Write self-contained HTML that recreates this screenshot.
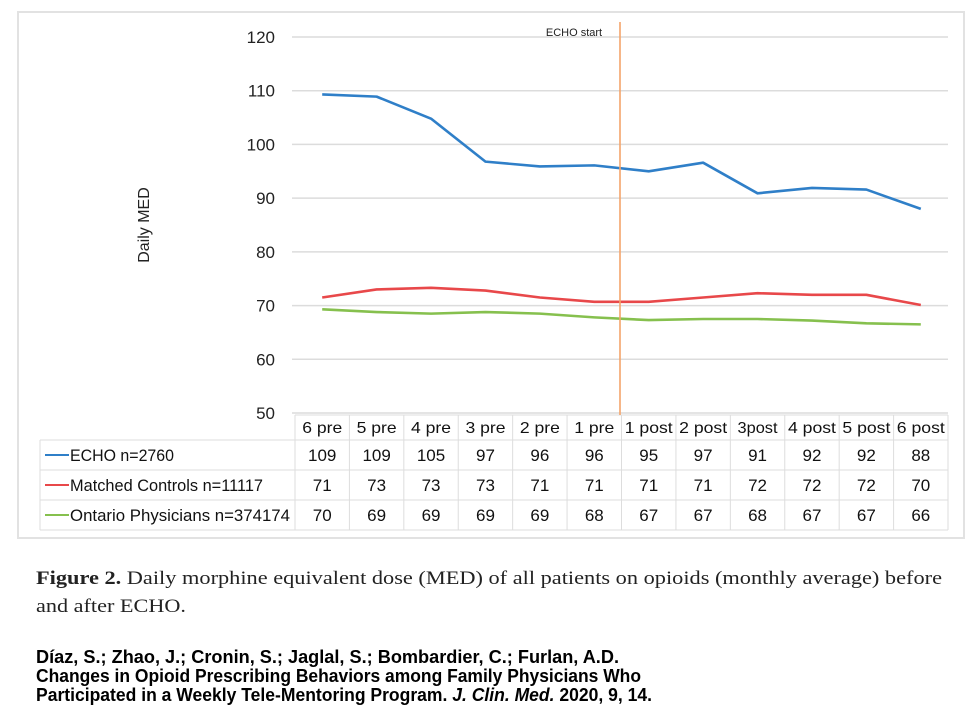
<!DOCTYPE html>
<html><head><meta charset="utf-8"><style>
body{margin:0;background:#fff;}
svg{display:block;font-family:"Liberation Sans",sans-serif;}
</style></head><body>
<svg id="c" width="978" height="728" viewBox="0 0 978 728">
<rect x="18" y="12" width="946" height="526" fill="#fff" stroke="#e2e2e2" stroke-width="2"/>
<g id="grid"></g>
<g id="table"></g>
<g id="lines"></g>
<text x="149" y="225" font-size="16" fill="#222" transform="rotate(-90 149 225)" text-anchor="middle">Daily MED</text>
<line x1="620" y1="22" x2="620" y2="415" stroke="#f4a46a" stroke-width="1.6"/>
<text x="574" y="36" font-size="11" fill="#222" text-anchor="middle">ECHO start</text>
<g font-family="'Liberation Serif',serif" font-size="19" fill="#222">
<text x="36" y="584" textLength="906" lengthAdjust="spacingAndGlyphs"><tspan font-weight="bold">Figure 2.</tspan> Daily morphine equivalent dose (MED) of all patients on opioids (monthly average) before</text>
<text x="36" y="612" textLength="150" lengthAdjust="spacingAndGlyphs">and after ECHO.</text>
</g>
<g font-size="18" font-weight="bold" fill="#000">
<text x="36" y="663" textLength="583" lengthAdjust="spacingAndGlyphs">Díaz, S.; Zhao, J.; Cronin, S.; Jaglal, S.; Bombardier, C.; Furlan, A.D.</text>
<text x="36" y="682" textLength="605" lengthAdjust="spacingAndGlyphs">Changes in Opioid Prescribing Behaviors among Family Physicians Who</text>
<text x="36" y="701" textLength="616" lengthAdjust="spacingAndGlyphs">Participated in a Weekly Tele-Mentoring Program. <tspan font-style="italic">J. Clin. Med.</tspan> 2020, 9, 14.</text>
</g>
</svg>
<script>
const categories=["6 pre","5 pre","4 pre","3 pre","2 pre","1 pre","1 post","2 post","3post","4 post","5 post","6 post"];
const echoValues=[109.3,108.9,104.8,96.8,95.9,96.1,95.0,96.6,90.9,91.9,91.6,88.0];
const matchedValues=[71.5,73.0,73.3,72.8,71.5,70.7,70.7,71.5,72.3,72.0,72.0,70.1];
const ontarioValues=[69.3,68.8,68.5,68.8,68.5,67.8,67.3,67.5,67.5,67.2,66.7,66.5];
const echoTable=[109,109,105,97,96,96,95,97,91,92,92,88];
const matchedTable=[71,73,73,73,71,71,71,71,72,72,72,70];
const ontarioTable=[70,69,69,69,69,68,67,67,68,67,67,66];
const yTicks=[50,60,70,80,90,100,110,120];
const seriesNames=["ECHO n=2760","Matched Controls n=11117","Ontario Physicians n=374174"];

const NS="http://www.w3.org/2000/svg";
const x0=295,x1=948,cw=(x1-x0)/categories.length;
function xs(i){return x0+cw*(i+0.5);}
function ys(v){return 413-(v-50)*(413-37)/70;}
function mk(p,tag,a,txt){const e=document.createElementNS(NS,tag);for(const k in a)e.setAttribute(k,a[k]);if(txt!==undefined)e.textContent=txt;p.appendChild(e);return e;}
const grid=document.getElementById('grid'),tbl=document.getElementById('table'),lines=document.getElementById('lines');
yTicks.forEach(t=>{
  const l=mk(grid,'line',{x1:292,x2:948,y1:ys(t),y2:ys(t),stroke:'#dcdcdc','stroke-width':1.5});
  
  
  const tx=mk(grid,'text',{x:275,y:ys(t)+6,'font-size':17,'text-anchor':'end',fill:'#222'},t);
  
  
});
const rowsY=[415,440,470,500,530];
mk(tbl,'line',{x1:x0,x2:x1,y1:415,y2:415,stroke:'#ddd'});
for(let r=1;r<rowsY.length;r++){mk(tbl,'line',{x1:40,x2:x1,y1:rowsY[r],y2:rowsY[r],stroke:'#ddd'});}
mk(tbl,'line',{x1:40,x2:40,y1:440,y2:530,stroke:'#ddd'});
for(let i=0;i<=categories.length;i++){mk(tbl,'line',{x1:x0+cw*i,x2:x0+cw*i,y1:415,y2:530,stroke:'#ddd'});}
categories.forEach((c,i)=>{
  const t=mk(tbl,'text',{x:xs(i),y:433,'font-size':16,'text-anchor':'middle',fill:'#111',textLength:Math.min(50,c.length*8),lengthAdjust:'spacingAndGlyphs'},c);
  
  
});
const colors=["#2f7fc8","#e8484a","#86c04e"];
const tables=[echoTable,matchedTable,ontarioTable];
const series=[echoValues,matchedValues,ontarioValues];
const nameW=[104,193,220];
tables.forEach((arr,r)=>{
  const cy=(rowsY[r+1]+rowsY[r+2])/2+6;
  mk(tbl,'line',{x1:45,x2:69,y1:cy-6,y2:cy-6,stroke:colors[r],'stroke-width':2});
  const lt=mk(tbl,'text',{x:70,y:cy,'font-size':17,fill:'#111',textLength:nameW[r],lengthAdjust:'spacingAndGlyphs'},seriesNames[r]);
  
  
  arr.forEach((v,i)=>{
    const t=mk(tbl,'text',{x:xs(i),y:cy,'font-size':17,'text-anchor':'middle',fill:'#111'},v);
    
    
  });
});
series.forEach((arr,r)=>{
  const p=mk(lines,'polyline',{points:arr.map((v,i)=>xs(i)+','+ys(v)).join(' '),fill:'none',stroke:colors[r],'stroke-width':2.6,'stroke-linejoin':'round'});
  
  
});
</script>
</body></html>
